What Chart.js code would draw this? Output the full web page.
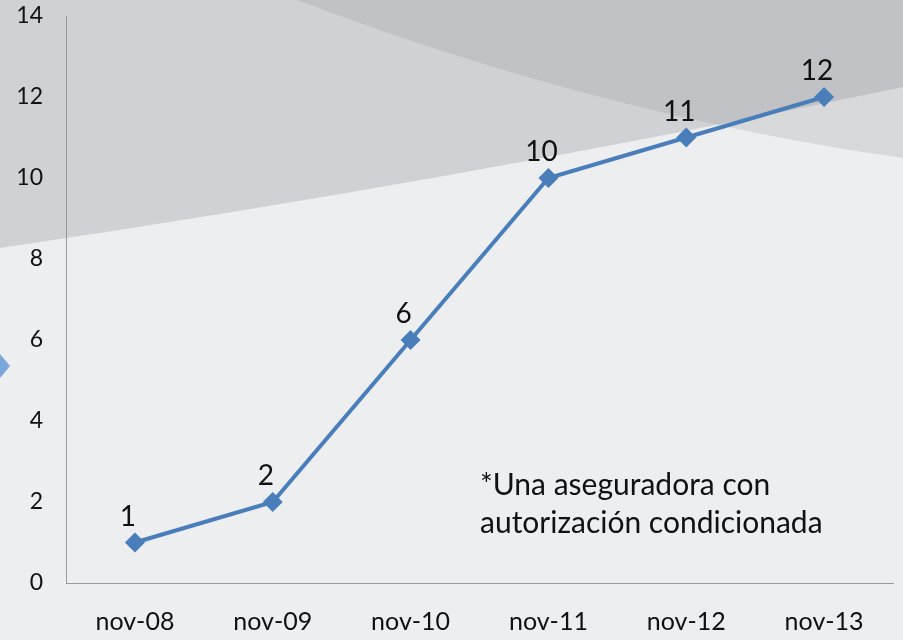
<!DOCTYPE html>
<html>
<head>
<meta charset="utf-8">
<script src="https://cdn.jsdelivr.net/npm/chart.js@4.4.1/dist/chart.umd.min.js"></script>
<style>
  html, body { margin: 0; padding: 0; background: #eceeef; }
  #wrap { position: relative; width: 903px; height: 640px; }
  #note { position: absolute; left: 480px; top: 464px; font-family: Lato, sans-serif; font-size: 30px; line-height: 38px; color: #111; }
</style>
</head>
<body>
<div id="wrap">
  <canvas id="chart" width="903" height="640"></canvas>
  <div id="note">*Una aseguradora con<br>autorización condicionada</div>
</div>
<script>
const labels = ['nov-08', 'nov-09', 'nov-10', 'nov-11', 'nov-12', 'nov-13'];
const values = [1, 2, 6, 10, 11, 12];
const yTicks = [0, 2, 4, 6, 8, 10, 12, 14];

const lineBlue = '#4a7ebb';
const font = 'Lato, sans-serif';

// slide background: grey curved bands behind the plot
const slideBackground = {
    id: 'slideBackground',
    beforeDraw(chart) {
        const ctx = chart.ctx;
        const w = chart.width, h = chart.height;
        const upper = () => {
            ctx.beginPath();
            ctx.moveTo(0, 0);
            ctx.lineTo(0, 248);
            ctx.quadraticCurveTo(450, 182, 903, 87);
            ctx.lineTo(903, 0);
            ctx.closePath();
        };
        ctx.save();
        ctx.fillStyle = '#eceeef';
        ctx.fillRect(0, 0, w, h);

        upper();
        ctx.fillStyle = '#cfd1d4';
        ctx.fill();

        // wedge on the top right, above the descending curve
        ctx.save();
        ctx.beginPath();
        ctx.moveTo(297, 0);
        ctx.quadraticCurveTo(600, 115, 903, 158);
        ctx.lineTo(903, 0);
        ctx.closePath();
        ctx.clip();
        ctx.fillStyle = '#d7d9db';
        ctx.fillRect(0, 0, w, h);
        upper();
        ctx.fillStyle = '#c0c2c5';
        ctx.fill();
        ctx.restore();

        // small arrow at left edge
        ctx.beginPath();
        ctx.moveTo(0, 354);
        ctx.lineTo(10, 366);
        ctx.lineTo(0, 378);
        ctx.closePath();
        ctx.fillStyle = '#7ba7dd';
        ctx.fill();
        ctx.restore();
    }
};

const pointLabels = {
    id: 'pointLabels',
    afterDatasetsDraw(chart) {
        const ctx = chart.ctx;
        const meta = chart.getDatasetMeta(0);
        ctx.save();
        ctx.font = '28px ' + font;
        ctx.fillStyle = '#111';
        ctx.textAlign = 'center';
        ctx.textBaseline = 'alphabetic';
        meta.data.forEach((pt, i) => {
            ctx.fillText(String(values[i]), pt.x - 7, pt.y - 17);
        });
        ctx.restore();
    }
};

new Chart(document.getElementById('chart'), {
    type: 'line',
    data: {
        labels: labels,
        datasets: [{
            data: values,
            borderColor: lineBlue,
            backgroundColor: lineBlue,
            borderWidth: 4,
            pointStyle: 'rectRot',
            pointRadius: 10,
            pointBorderWidth: 0,
            tension: 0,
            fill: false,
        }],
    },
    options: {
        responsive: false,
        animation: false,
        layout: { padding: { top: 16, right: 2, left: 0, bottom: 0 } },
        plugins: {
            legend: { display: false },
            tooltip: { enabled: false },
        },
        scales: {
            x: {
                offset: true,
                grid: { display: false, drawTicks: false, offset: true },
                border: { display: true, color: '#9a9a9a', width: 1 },
                ticks: { color: '#111', font: { family: font, size: 25 }, padding: 24 },
                afterFit(scale) {
                    scale.height = 57;
                    scale.paddingLeft = 0;
                    scale.paddingRight = 0;
                },
            },
            y: {
                min: 0,
                max: 14,
                grid: { display: false, drawTicks: false },
                border: { display: true, color: '#9a9a9a', width: 1 },
                afterBuildTicks(scale) { scale.ticks = yTicks.map(v => ({ value: v })); },
                ticks: { color: '#111', font: { family: font, size: 23 }, padding: 23 },
                afterFit(scale) {
                    scale.width = 66;
                    scale.paddingTop = 0;
                    scale.paddingBottom = 0;
                },
            },
        },
    },
    plugins: [slideBackground, pointLabels],
});
</script>
</body>
</html>
